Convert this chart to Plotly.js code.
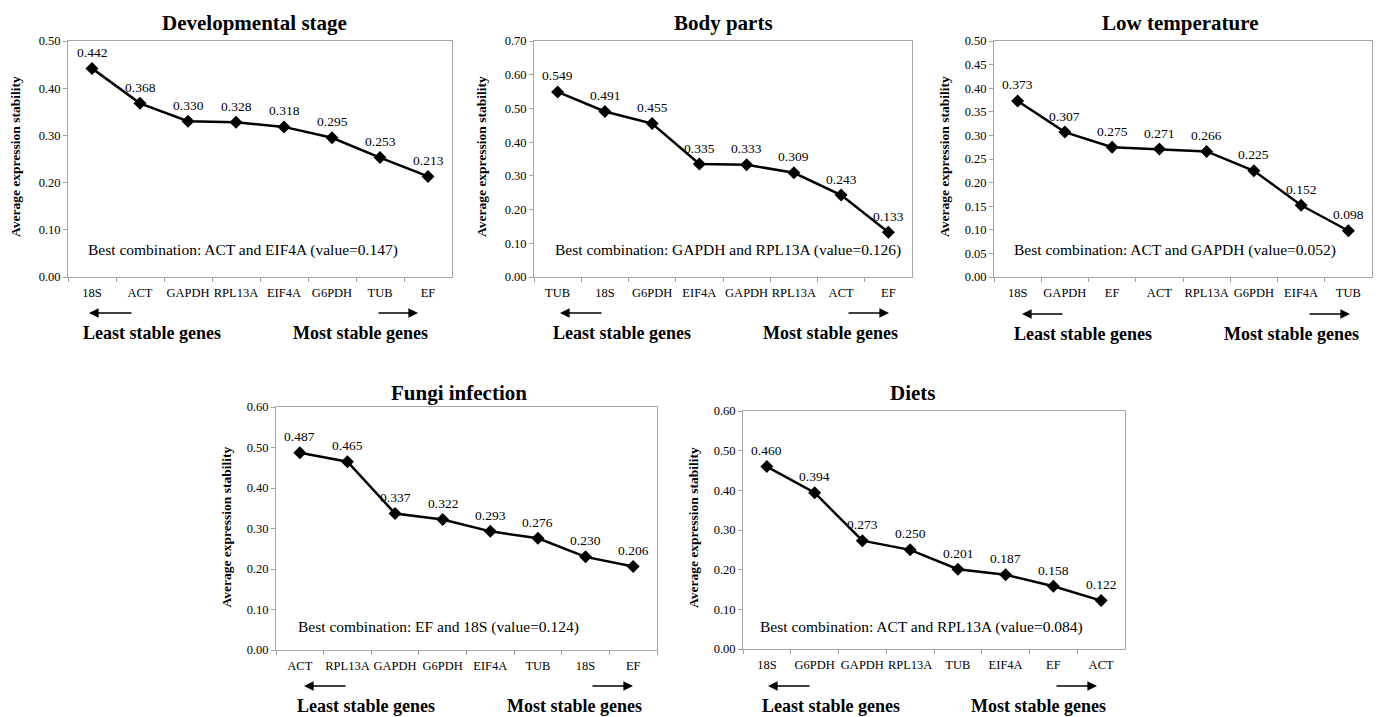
<!DOCTYPE html>
<html>
<head>
<meta charset="utf-8">
<script src="https://cdn.plot.ly/plotly-3.0.1.min.js"></script>
<style>html,body{margin:0;padding:0;background:#fff;}#chart{width:1380px;height:717px;}</style>
</head>
<body>
<div id="chart"></div>
<script>
// ---- data ----
var titles = ["Developmental stage", "Body parts", "Low temperature", "Fungi infection", "Diets"];
var cats1 = ["18S", "ACT", "GAPDH", "RPL13A", "EIF4A", "G6PDH", "TUB", "EF"];
var vals1 = [0.442, 0.368, 0.330, 0.328, 0.318, 0.295, 0.253, 0.213];
var cats2 = ["TUB", "18S", "G6PDH", "EIF4A", "GAPDH", "RPL13A", "ACT", "EF"];
var vals2 = [0.549, 0.491, 0.455, 0.335, 0.333, 0.309, 0.243, 0.133];
var cats3 = ["18S", "GAPDH", "EF", "ACT", "RPL13A", "G6PDH", "EIF4A", "TUB"];
var vals3 = [0.373, 0.307, 0.275, 0.271, 0.266, 0.225, 0.152, 0.098];
var cats4 = ["ACT", "RPL13A", "GAPDH", "G6PDH", "EIF4A", "TUB", "18S", "EF"];
var vals4 = [0.487, 0.465, 0.337, 0.322, 0.293, 0.276, 0.230, 0.206];
var cats5 = ["18S", "G6PDH", "GAPDH", "RPL13A", "TUB", "EIF4A", "EF", "ACT"];
var vals5 = [0.460, 0.394, 0.273, 0.250, 0.201, 0.187, 0.158, 0.122];
var bestCombos = [
  "Best combination: ACT and EIF4A (value=0.147)",
  "Best combination: GAPDH and RPL13A (value=0.126)",
  "Best combination: ACT and GAPDH (value=0.052)",
  "Best combination: EF and 18S (value=0.124)",
  "Best combination: ACT and RPL13A (value=0.084)"
];
var yMax = [0.5, 0.7, 0.5, 0.6, 0.6];
var yStep = [0.1, 0.1, 0.05, 0.1, 0.1];
var yTitle = "Average expression stability";
var leastText = "Least stable genes";
var mostText = "Most stable genes";

// ---- layout geometry (pixels) ----
var W = 1380, H = 717;
var FONT = "'Liberation Serif', 'Times New Roman', Times, serif";
var panels = [
  {x0: 68,  x1: 452,  y0: 41,  y1: 277, tx: 255,  ty: 23,  yt: 16,
   lt: [89, 133], rt: [377, 418], ay: 313, lx: 152, mx: 360, ly: 333, bx: 86, by: 250},
  {x0: 534, x1: 912,  y0: 41,  y1: 277, tx: 723,  ty: 23,  yt: 482,
   lt: [560, 603], rt: [847, 889], ay: 313, lx: 622, mx: 830, ly: 333, bx: 553, by: 250},
  {x0: 994, x1: 1372, y0: 41,  y1: 277, tx: 1180, ty: 23,  yt: 945,
   lt: [1022, 1064], rt: [1308, 1350], ay: 314, lx: 1083, mx: 1291, ly: 334, bx: 1012, by: 250},
  {x0: 276, x1: 657,  y0: 407, y1: 650, tx: 459,  ty: 393, yt: 226,
   lt: [304, 347], rt: [591, 633], ay: 686, lx: 366, mx: 574, ly: 706, bx: 296, by: 627},
  {x0: 743, x1: 1125, y0: 411, y1: 649, tx: 913,  ty: 393, yt: 693,
   lt: [768, 811], rt: [1055, 1097], ay: 686, lx: 831, mx: 1038, ly: 706, bx: 758, by: 627}
];
var allCats = [cats1, cats2, cats3, cats4, cats5];
var allVals = [vals1, vals2, vals3, vals4, vals5];

function px(x) { return x / W; }
function py(y) { return 1 - y / H; }

var traces = [];
var layout = {
  width: W, height: H,
  margin: {l: 0, r: 0, t: 0, b: 0},
  paper_bgcolor: "#fff", plot_bgcolor: "#fff",
  showlegend: false,
  font: {family: FONT, color: "#000"},
  annotations: []
};

for (var i = 0; i < 5; i++) {
  var p = panels[i];
  var n = i === 0 ? "" : String(i + 1);
  traces.push({
    type: "scatter",
    mode: "lines+markers",
    x: allCats[i], y: allVals[i],
    xaxis: "x" + n, yaxis: "y" + n,
    line: {color: "#000", width: 2.5},
    marker: {symbol: "diamond", size: 10, color: "#000"},
    cliponaxis: false,
    hoverinfo: "skip"
  });
  layout["xaxis" + n] = {
    domain: [px(p.x0), px(p.x1)],
    anchor: "y" + n,
    type: "category",
    range: [-0.5, 7.5],
    tickson: "boundaries",
    tickangle: 0,
    ticks: "outside", ticklen: 4, tickcolor: "#a0a0a0",
    ticklabelstandoff: 4,
    showline: true, mirror: true, linecolor: "#a6a6a6", linewidth: 1,
    showgrid: false, zeroline: false, fixedrange: true,
    tickfont: {family: FONT, size: 12.5, color: "#000"}
  };
  layout["yaxis" + n] = {
    domain: [py(p.y1), py(p.y0)],
    anchor: "x" + n,
    range: [0, yMax[i]],
    dtick: yStep[i], tick0: 0,
    tickformat: ".2f",
    ticks: "outside", ticklen: 4, tickcolor: "#a0a0a0",
    showline: true, mirror: true, linecolor: "#a6a6a6", linewidth: 1,
    showgrid: false, zeroline: false, fixedrange: true,
    tickfont: {family: FONT, size: 12.5, color: "#000"}
  };
  var A = layout.annotations;
  // data labels
  for (var k = 0; k < allCats[i].length; k++) {
    A.push({xref: "x" + n, yref: "y" + n, x: allCats[i][k], y: allVals[i][k],
      text: allVals[i][k].toFixed(3), showarrow: false, yshift: 16,
      font: {family: FONT, size: 13.5, color: "#000"}, xanchor: "center", yanchor: "middle"});
  }
  // panel title
  A.push({xref: "paper", yref: "paper", x: px(p.tx), y: py(p.ty), showarrow: false,
    text: "<b>" + titles[i] + "</b>", font: {family: FONT, size: 21, color: "#000"},
    xanchor: "center", yanchor: "middle"});
  // y-axis title
  A.push({xref: "paper", yref: "paper", x: px(p.yt), y: py((p.y0 + p.y1) / 2 - 2), showarrow: false,
    text: "<b>" + yTitle + "</b>", textangle: -90, font: {family: FONT, size: 13.5, color: "#000"},
    xanchor: "center", yanchor: "middle"});
  // best combination
  A.push({xref: "paper", yref: "paper", x: px(p.bx), y: py(p.by), showarrow: false,
    text: bestCombos[i], font: {family: FONT, size: 15.5, color: "#000"},
    xanchor: "left", yanchor: "middle"});
  // arrows
  A.push({xref: "paper", yref: "paper", x: px(p.lt[0]), y: py(p.ay), ax: p.lt[1] - p.lt[0], ay: 0,
    showarrow: true, text: "", arrowhead: 2, arrowsize: 1.2, arrowwidth: 1.6, arrowcolor: "#000"});
  A.push({xref: "paper", yref: "paper", x: px(p.rt[1]), y: py(p.ay), ax: p.rt[0] - p.rt[1], ay: 0,
    showarrow: true, text: "", arrowhead: 2, arrowsize: 1.2, arrowwidth: 1.6, arrowcolor: "#000"});
  // least / most labels
  A.push({xref: "paper", yref: "paper", x: px(p.lx), y: py(p.ly), showarrow: false,
    text: "<b>" + leastText + "</b>", font: {family: FONT, size: 18, color: "#000"},
    xanchor: "center", yanchor: "middle"});
  A.push({xref: "paper", yref: "paper", x: px(p.mx), y: py(p.ly), showarrow: false,
    text: "<b>" + mostText + "</b>", font: {family: FONT, size: 18, color: "#000"},
    xanchor: "center", yanchor: "middle"});
}

Plotly.newPlot("chart", traces, layout, {staticPlot: true, displayModeBar: false});
</script>
</body>
</html>
